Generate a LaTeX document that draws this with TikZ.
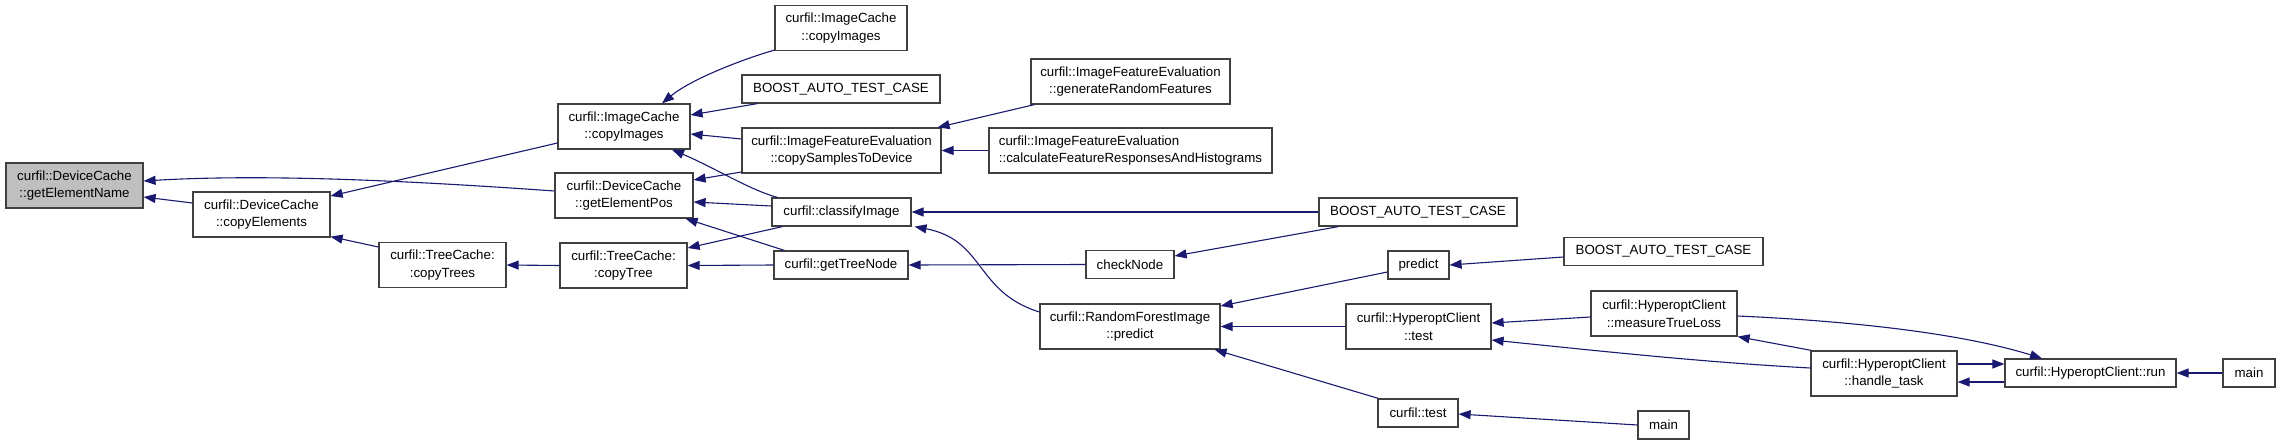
\documentclass[tikz,border=0pt]{standalone}
\usepackage{fontspec}
\setmainfont{Liberation Sans}
\usetikzlibrary{arrows.meta}
\definecolor{edgeblue}{HTML}{191970}
\definecolor{boxline}{HTML}{404040}
\tikzset{
  fn/.style={draw=boxline, line width=1.2pt, fill=white, align=center, inner xsep=4pt, inner ysep=0pt,
    minimum height=45pt, font=\fontsize{13.3}{17.5}\selectfont},
  one/.style={minimum height=28pt},
  call/.style={edgeblue, line width=1.1pt, -{Triangle[length=12pt,width=9pt]}}
}

\begin{document}
\begin{tikzpicture}[x=1pt,y=-1pt]
    \useasboundingbox (0,0) rectangle (2280,445);

    % callee on the left, callers to the right
    \node[fn, fill=gray!50, minimum width=137pt] (getElementName) at (74.5,185.5) {curfil::DeviceCache\\::getElementName};
    \node[fn, minimum width=137pt] (copyElements) at (261.5,214.5) {curfil::DeviceCache\\::copyElements};
    \node[fn, minimum width=127pt] (copyTrees) at (442.5,265) {curfil::TreeCache:\\:copyTrees};

    \node[fn, minimum width=132pt] (copyImagesA) at (624,126.5) {curfil::ImageCache\\::copyImages};
    \node[fn, minimum width=138pt] (getElementPos) at (624,195.5) {curfil::DeviceCache\\::getElementPos};
    \node[fn, minimum width=127pt] (copyTree) at (623.5,265.5) {curfil::TreeCache:\\:copyTree};

    \node[fn, minimum width=132pt] (copyImagesB) at (841,28) {curfil::ImageCache\\::copyImages};
    \node[fn, one, minimum width=198pt] (boostA) at (841,89) {BOOST\_AUTO\_TEST\_CASE};
    \node[fn, minimum width=199pt] (copySamples) at (841.5,150.5) {curfil::ImageFeatureEvaluation\\::copySamplesToDevice};
    \node[fn, one, minimum width=139pt] (classifyImage) at (841.5,212) {curfil::classifyImage};
    \node[fn, one, minimum width=134pt] (getTreeNode) at (841,265) {curfil::getTreeNode};

    \node[fn, minimum width=199pt] (genFeatures) at (1130.5,81.5) {curfil::ImageFeatureEvaluation\\::generateRandomFeatures};
    \node[fn, align=left, minimum width=283pt] (calcFeatures) at (1130.5,150.5) {curfil::ImageFeatureEvaluation\\::calculateFeatureResponsesAndHistograms};
    \node[fn, one, minimum width=88pt] (checkNode) at (1130,264.5) {checkNode};
    \node[fn, minimum width=180pt] (rfPredict) at (1130,326.5) {curfil::RandomForestImage\\::predict};

    \node[fn, one, minimum width=198pt] (boostB) at (1418,212) {BOOST\_AUTO\_TEST\_CASE};
    \node[fn, one, minimum width=61pt] (predict) at (1418.5,265) {predict};
    \node[fn, minimum width=145pt] (hcTest) at (1418.5,326.5) {curfil::HyperoptClient\\::test};
    \node[fn, one, minimum width=80pt] (curfilTest) at (1418,413) {curfil::test};

    \node[fn, one, minimum width=199pt] (boostC) at (1663.5,251.5) {BOOST\_AUTO\_TEST\_CASE};
    \node[fn, minimum width=146pt] (measureLoss) at (1664,313.5) {curfil::HyperoptClient\\::measureTrueLoss};
    \node[fn, one, minimum width=51pt] (mainA) at (1663.5,425) {main};

    \node[fn, minimum width=146pt] (handleTask) at (1884,373.5) {curfil::HyperoptClient\\::handle\_task};
    \node[fn, one, minimum width=171pt] (run) at (2090.5,373) {curfil::HyperoptClient::run};
    \node[fn, one, minimum width=52pt] (mainB) at (2249,373) {main};

    % calls
    \draw[call] ([yshift=11.5pt]copyElements.west) -- ([yshift=-11.5pt]getElementName.east);
    \draw[call] ([yshift=4.5pt]getElementPos.west) .. controls (400,180) and (260,174) .. ([yshift=4.5pt]getElementName.east);
    \draw[call] ([yshift=-16.5pt]copyImagesA.west) -- ([yshift=18.5pt]copyElements.east);
    \draw[call] ([yshift=18pt]copyTrees.west) -- ([yshift=1pt]copyElements.south east);
    \draw[call] (copyTree.west) -- (copyTrees.east);

    \draw[call] ([yshift=1pt]copyImagesB.south west) .. controls (740,60) and (690,80) .. ([xshift=38pt]copyImagesA.north);
    \draw[call] ([xshift=16pt]boostA.south west) -- ([yshift=11.5pt]copyImagesA.east);
    \draw[call] ([yshift=11.5pt]copySamples.west) -- ([yshift=-7.5pt]copyImagesA.east);
    \draw[call] ([xshift=6pt]classifyImage.north west) .. controls (750,190) and (715,168) .. ([xshift=48pt]copyImagesA.south);
    \draw[call] ([yshift=-21.5pt]copySamples.west) -- ([yshift=15.5pt]getElementPos.east);
    \draw[call] ([yshift=6pt]classifyImage.west) -- ([yshift=-6.5pt]getElementPos.east);
    \draw[call] ([xshift=11pt]getTreeNode.north west) -- ([xshift=-8pt]getElementPos.south east);
    \draw[call] ([xshift=11pt]classifyImage.south west) -- ([yshift=17.5pt]copyTree.east);
    \draw[call] (getTreeNode.west) -- (copyTree.east);

    \draw[call] ([xshift=4pt]genFeatures.south west) -- ([xshift=-4pt]copySamples.north east);
    \draw[call] (calcFeatures.west) -- (copySamples.east);
    \draw[call] (boostB.west) -- (classifyImage.east);
    \draw[call] ([yshift=14.5pt]rfPredict.west) .. controls (975,292) and (985,240) .. ([xshift=3pt]classifyImage.south east);
    \draw[call] (checkNode.west) -- (getTreeNode.east);

    \draw[call] ([xshift=20pt]boostB.south west) -- ([yshift=8.5pt]checkNode.east);
    \draw[call] ([yshift=-7pt]predict.west) -- ([yshift=20.5pt]rfPredict.east);
    \draw[call] (hcTest.west) -- (rfPredict.east);
    \draw[call] ([xshift=1pt]curfilTest.north west) -- ([xshift=-6pt]rfPredict.south east);

    \draw[call] ([yshift=-5.5pt]boostC.west) -- (predict.east);
    \draw[call] ([yshift=-3.5pt]measureLoss.west) -- ([yshift=3.5pt]hcTest.east);
    \draw[call] ([yshift=5.5pt]handleTask.west) .. controls (1700,362) and (1600,351) .. ([yshift=-13.5pt]hcTest.east);
    \draw[call] (mainA.west) -- ([yshift=-1pt]curfilTest.east);

    \draw[call] ([xshift=1pt]handleTask.north west) -- (measureLoss.south east);
    \draw[call] ([yshift=-9pt]run.west) -- ([yshift=-8.5pt]handleTask.east);
    \draw[call] ([yshift=9.5pt]handleTask.east) -- ([yshift=9pt]run.west);
    \draw[call] ([yshift=-2.5pt]measureLoss.east) .. controls (1850,321) and (1960,333) .. ([xshift=-48.5pt]run.north);
    \draw[call] (mainB.west) -- (run.east);
\end{tikzpicture}
\end{document}
